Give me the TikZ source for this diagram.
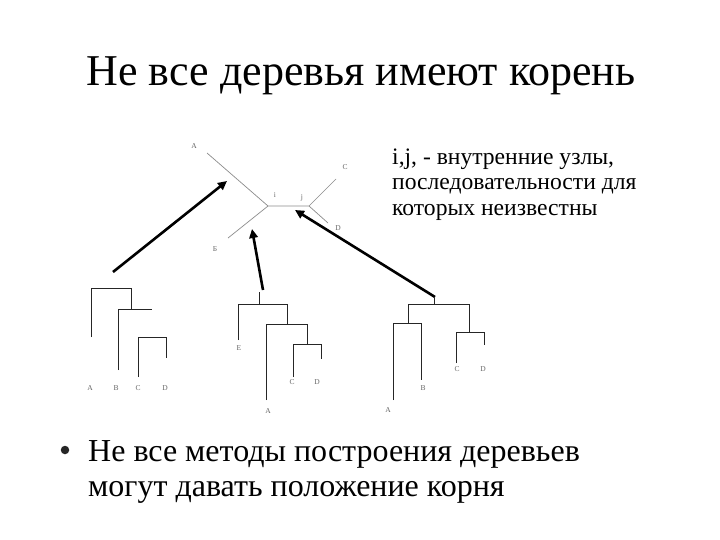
\documentclass[tikz,border=0pt]{standalone}
\usepackage{fontspec}
\setmainfont{Liberation Serif}
\usetikzlibrary{arrows.meta}
\begin{document}
\begin{tikzpicture}[x=1pt,y=-1pt,
  br/.style={draw=black!85,line width=0.7pt},
  ur/.style={draw=black!45,line width=0.7pt},
  lbl/.style={font=\fontsize{7.5}{8}\selectfont,text=black!60,inner sep=0pt},
  bigarrow/.style={draw=black,line width=2.6pt,-{Triangle[length=9pt,width=8.5pt]}},
  ttl/.style={font=\fontsize{44}{50}\selectfont,inner sep=0pt,anchor=base},
  note/.style={font=\fontsize{23.6}{25}\selectfont,inner sep=0pt,anchor=base west},
  bul/.style={font=\fontsize{32}{35}\selectfont,inner sep=0pt,anchor=base west}]
\useasboundingbox (0,0) rectangle (720,540);
\fill[white] (0,0) rectangle (720,540);

% title
\node[ttl] (title) at (361,86) {Не все деревья имеют корень};

% note text
\node[note] (n1) at (392,165) {i,j, - внутренние узлы,};
\node[note] (n2) at (392,190) {последовательности для};
\node[note] (n3) at (392,215) {которых неизвестны};

% bullet
\node[circle,fill=black!85,inner sep=0pt,minimum size=8.5pt] (dot) at (65,450) {};
\node[bul] (b1) at (88,461) {Не все методы построения деревьев};
\node[bul] (b2) at (88,496) {могут давать положение корня};

% unrooted tree
\coordinate (ui) at (268,206);
\coordinate (uj) at (309,206);
\coordinate (uA) at (207,153);
\coordinate (uB) at (228,238);
\coordinate (uC) at (336,179);
\coordinate (uD) at (328,223);
\draw[ur] (uA) -- (ui) -- (uj) -- (uC);
\draw[ur] (ui) -- (uB);
\draw[ur] (uj) -- (uD);
\node[lbl] (luA) at (194,146) {A};
\node[lbl] (luB) at (215,249) {Б};
\node[lbl] (luC) at (345,167) {C};
\node[lbl] (luD) at (338,228) {D};
\node[lbl] (lui) at (275,195) {i};
\node[lbl] (luj) at (302,198) {j};

% tree 1
\draw[br] (91,337) -- (91,288) -- (131,288) -- (131,309);
\draw[br] (118,370) -- (118,309) -- (152,309);
\draw[br] (138,377) -- (138,337) -- (166,337) -- (166,358);
\node[lbl] (t1A) at (90,388) {A};
\node[lbl] (t1B) at (116,388) {B};
\node[lbl] (t1C) at (138,388) {C};
\node[lbl] (t1D) at (165,388) {D};
\coordinate (t1root) at (113,272);

% tree 2
\coordinate (t2root) at (263,290);
\draw[br] (259,292) -- (259,304);
\draw[br] (238,340) -- (238,304) -- (287,304) -- (287,324);
\draw[br] (266,400) -- (266,324) -- (307,324) -- (307,344);
\draw[br] (293,377) -- (293,344) -- (321,344) -- (321,359);
\node[lbl] (t2E) at (239,348) {E};
\node[lbl] (t2A) at (268,411) {A};
\node[lbl] (t2C) at (292,382) {C};
\node[lbl] (t2D) at (317,382) {D};

% tree 3
\coordinate (t3root) at (435,297);
\draw[br] (434,298) -- (434,304);
\draw[br] (408,323) -- (408,304) -- (469,304) -- (469,332);
\draw[br] (393,400) -- (393,323) -- (421,323) -- (421,380);
\draw[br] (456,363) -- (456,332) -- (484,332) -- (484,345);
\node[lbl] (t3A) at (388,410) {A};
\node[lbl] (t3B) at (423,388) {B};
\node[lbl] (t3C) at (457,369) {C};
\node[lbl] (t3D) at (483,369) {D};

% arrows
\coordinate (h1) at (227,181);
\coordinate (h2) at (252,229);
\coordinate (h3) at (295,210);
\draw[bigarrow] (t1root) -- (h1);
\draw[bigarrow] (t2root) -- (h2);
\draw[bigarrow] (t3root) -- (h3);
\end{tikzpicture}
\end{document}
